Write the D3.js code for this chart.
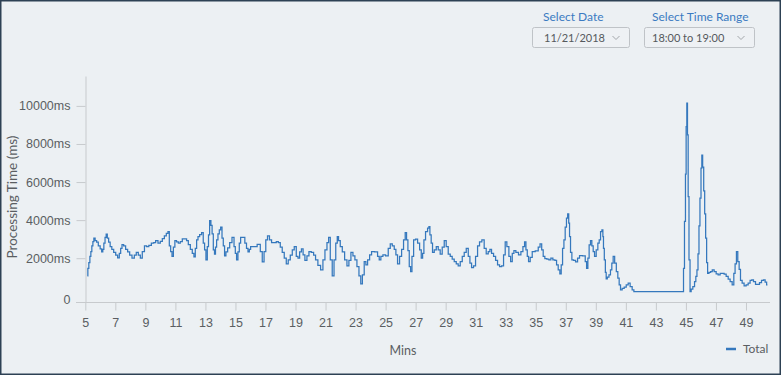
<!DOCTYPE html>
<html>
<head>
<meta charset="utf-8">
<script src="https://cdn.jsdelivr.net/npm/d3@7"></script>
<style>
  html, body { margin: 0; padding: 0; background: #ecf0f3; }
  svg { display: block; font-family: Lato, "Open Sans", sans-serif; }
</style>
</head>
<body>
<svg width="781" height="375"></svg>
<script>
// processing time samples: [minute, ms]
const samples = [
  [5.14,1070],[5.20,1470],[5.27,1770],[5.34,2090],[5.40,2350],[5.47,2650],[5.54,2870],[5.60,3050],[5.71,2930],[5.80,2840],
  [5.93,2650],[6.05,2490],[6.13,2330],[6.20,2470],[6.27,2790],[6.36,3090],[6.42,3260],[6.51,3050],[6.60,2840],[6.71,2610],
  [6.82,2470],[6.96,2310],[7.09,2160],[7.22,2020],[7.31,2260],[7.40,2510],[7.49,2720],[7.62,2650],[7.75,2470],[7.89,2330],
  [8.02,2160],[8.20,2000],[8.33,2160],[8.46,2300],[8.60,2160],[8.73,2000],[8.86,2350],[9.02,2650],[9.15,2610],[9.31,2680],
  [9.49,2790],[9.62,2820],[9.75,2930],[9.93,2790],[10.06,2890],[10.20,3030],[10.33,3170],[10.46,3300],[10.55,3400],[10.64,2650],
  [10.73,2350],[10.82,2090],[10.91,2580],[11.02,2930],[11.13,2860],[11.26,2790],[11.39,2870],[11.53,3010],[11.70,3010],[11.79,2930],
  [11.93,2720],[12.06,2470],[12.19,2260],[12.28,2070],[12.37,2510],[12.46,2960],[12.55,3140],[12.68,3240],[12.81,3350],[12.90,2790],
  [12.99,2440],[13.08,1910],[13.17,2610],[13.24,3220],[13.32,3980],[13.41,3720],[13.48,3280],[13.57,2440],[13.64,2210],[13.70,2580],
  [13.79,2960],[13.88,3280],[13.97,3490],[14.06,3630],[14.15,3050],[14.23,2650],[14.32,2120],[14.41,2330],[14.55,2540],[14.68,2820],
  [14.86,3100],[14.95,2610],[15.03,2260],[15.12,1910],[15.21,2330],[15.30,2790],[15.39,3090],[15.57,3090],[15.68,2790],[15.79,2520],
  [15.88,2330],[15.97,2470],[16.05,2610],
  [16.30,2610],[16.59,2730],[16.72,2350],[16.85,1810],[16.96,2350],[17.08,2960],[17.19,3170],[17.34,2960],[17.47,2820],[17.65,2820],
  [17.79,2870],[17.92,2820],[18.05,2580],[18.18,2300],[18.32,2000],[18.45,1700],[18.58,1910],[18.72,2160],[18.85,2440],[18.98,2610],
  [19.12,2090],[19.21,2000],[19.34,2330],[19.45,2490],[19.56,2170],[19.69,1880],[19.83,2120],[19.96,2350],[20.14,2300],[20.27,2160],
  [20.40,1910],[20.58,1630],[20.76,1390],[20.89,1910],[21.03,2440],[21.16,2820],[21.25,3090],[21.38,1910],[21.51,1070],[21.62,1910],
  [21.74,2790],[21.82,3140],[21.91,2930],[22.05,2610],[22.18,2330],[22.36,1910],[22.49,1600],[22.62,1880],[22.76,2300],[22.89,2120],
  [23.02,1910],[23.16,1560],[23.29,1070],[23.40,650],[23.51,1120],[23.64,1820],[23.73,1650],[23.87,1910],[24.00,2170],[24.13,2350],
  [24.40,2330],[24.53,2090],[24.62,1910],[24.75,2090],[24.89,2170],[25.11,2120],[25.24,2520],[25.38,2750],[25.51,2650],[25.64,2470],
  [25.73,2170],[25.86,1700],[26.00,2090],[26.13,2470],[26.26,2960],[26.35,3350],[26.44,2960],[26.53,2400],[26.62,1560],[26.71,1300],
  [26.80,2090],[26.93,2960],[27.06,3000],[27.20,2790],[27.33,2440],[27.42,2000],[27.51,2260],[27.59,2960],[27.73,3400],[27.86,3580],
  [27.91,3660],[27.99,3220],[28.08,2790],[28.17,2300],[28.31,2440],[28.44,2610],[28.57,2440],[28.70,2210],[28.84,2580],[28.97,2930],
  [29.10,2610],[29.24,2210],[29.37,2090],[29.50,1950],[29.64,1820],[29.77,1700],[29.90,1600],[30.04,1820],[30.17,2090],[30.30,2300],
  [30.44,2510],[30.57,2090],[30.66,1740],[30.79,1510],[30.92,1600],[31.06,2090],[31.19,2650],[31.32,2860],[31.50,2960],[31.63,2520],
  [31.77,2230],[31.90,2350],[31.99,2470],[32.12,2260],[32.26,2090],[32.39,1880],[32.52,1650],[32.66,1560],[32.79,1600],[32.92,2170],
  [33.01,2860],[33.14,2610],[33.28,2090],[33.37,1820],[33.50,2260],[33.59,2400],[33.76,2310],[33.94,2170],[34.08,2350],[34.21,2610],
  [34.30,2860],[34.39,2440],[34.48,2090],[34.56,1820],[34.70,2050],[34.83,2350],[35.10,2380],[35.23,2580],[35.34,2750],[35.45,2440],
  [35.54,2090],[35.67,1980],[35.81,1950],[35.94,1910],[36.07,2000],[36.21,1910],[36.34,1880],[36.43,1650],[36.56,1390],[36.65,1180],
  [36.74,1650],[36.83,2520],[36.92,2960],[37.00,3630],[37.09,4100],[37.16,4330],[37.23,3840],[37.27,3140],[37.36,2300],[37.45,1910],
  [37.58,1880],[37.72,1810],[37.85,2000],[37.98,2140],[38.25,2120],[38.34,1820],[38.43,1470],[38.51,2000],[38.60,2700],[38.69,2930],
  [38.78,2650],[38.87,2350],[38.96,2090],[39.09,2440],[39.18,2790],
  [39.27,2960],[39.36,3400],[39.45,3490],[39.49,3140],[39.53,2520],[39.60,1910],[39.67,1250],[39.71,910],[39.82,1000],[39.93,1120],
  [40.02,1390],[40.11,1740],[40.20,2090],[40.31,1740],[40.42,1300],[40.51,950],[40.60,600],[40.69,340],[40.82,420],[40.96,480],
  [41.09,600],[41.22,690],[41.35,510],[41.49,340],[41.58,250],[44.82,250],[44.86,1470],[44.95,3930],[44.99,6410],[45.04,8910],
  [45.08,10140],[45.13,8480],[45.17,5240],[45.24,1910],[45.31,250],[45.39,370],[45.53,510],[45.62,770],[45.70,1040],[45.77,1390],
  [45.84,2230],[45.90,3700],[45.97,5150],[46.04,6730],[46.08,7410],[46.15,6780],[46.22,5540],[46.28,4330],[46.35,3050],[46.41,1770],
  [46.48,1210],[46.59,1260],[46.70,1300],[46.81,1390],[46.95,1300],[47.08,1180],[47.21,1120],[47.35,1210],[47.48,1210],[47.61,1160],
  [47.75,1040],[47.88,900],[48.01,770],[48.15,600],[48.23,1210],[48.32,1700],[48.41,2350],[48.50,1820],[48.59,1420],[48.68,830],
  [48.81,690],[48.94,550],[49.08,600],[49.21,690],[49.34,830],[49.43,860],[49.57,770],[49.70,630],[49.83,630],[49.97,720],
  [50.10,830],[50.23,860],[50.32,740],[50.43,600]
];

const xTicks = [5,7,9,11,13,15,17,19,21,23,25,27,29,31,33,35,37,39,41,43,45,47,49];
const yTicks = [0,2000,4000,6000,8000,10000];
const dateOptions = ["11/21/2018"];
const rangeOptions = ["18:00 to 19:00"];

const svg = d3.select("svg");
const width = +svg.attr("width");
const height = +svg.attr("height");

// фон и рамка
svg.append("rect")
  .attr("x", 0.75).attr("y", 0.75)
  .attr("width", width - 1.5).attr("height", height - 1.5)
  .attr("fill", "#ecf0f3")
  .attr("stroke", "#2d4154")
  .attr("stroke-width", 1.5);

const x = d3.scaleLinear().domain([5, 50.6]).range([85.3, 770]);
const y = d3.scaleLinear().domain([-300, 11570]).range([302, 76]);

const axisColor = "#c7cacd";
const textColor = "#5a5e62";

// y axis
const gy = svg.append("g")
  .attr("transform", "translate(85.5,0)")
  .call(d3.axisLeft(y).tickValues(yTicks).tickSize(9).tickSizeOuter(0).tickPadding(6)
    .tickFormat(d => d === 0 ? "0" : d + "ms"));
gy.select(".domain").attr("stroke", axisColor);
gy.selectAll(".tick line").attr("stroke", axisColor).attr("opacity", d => d === 0 ? 0 : 1);
gy.selectAll(".tick text").attr("fill", textColor).attr("font-size", 12.5)
  .attr("dy", d => d === 0 ? "0.55em" : "0.32em");

// x axis
const gx = svg.append("g")
  .attr("transform", "translate(0,302.5)")
  .call(d3.axisBottom(x).tickValues(xTicks).tickSize(8).tickSizeOuter(0).tickPadding(8));
gx.select(".domain").remove();
gx.append("line")
  .attr("x1", 76).attr("x2", 770)
  .attr("stroke", axisColor);
gx.selectAll(".tick line").attr("stroke", axisColor);
gx.selectAll(".tick text").attr("fill", textColor).attr("font-size", 12.5);

// axis titles
svg.append("text")
  .attr("transform", "translate(17,197) rotate(-90)")
  .attr("text-anchor", "middle")
  .attr("fill", textColor)
  .attr("font-size", 13.5)
  .text("Processing Time (ms)");

svg.append("text")
  .attr("x", 403).attr("y", 355)
  .attr("text-anchor", "middle")
  .attr("fill", textColor)
  .attr("font-size", 12.5)
  .text("Mins");

// линия
const line = d3.line()
  .x(d => x(d[0]))
  .y(d => y(d[1]))
  .curve(d3.curveStep);

svg.append("path")
  .attr("d", line(samples))
  .attr("fill", "none")
  .attr("stroke", "#3578bd")
  .attr("stroke-width", 1.25);

// legend
svg.append("line")
  .attr("x1", 726).attr("x2", 736)
  .attr("y1", 349).attr("y2", 349)
  .attr("stroke", "#3578bd")
  .attr("stroke-width", 2.5);
svg.append("text")
  .attr("x", 743).attr("y", 353)
  .attr("fill", textColor)
  .attr("font-size", 12)
  .text("Total");

// селекты
const selects = [
  {label: "Select Date", value: dateOptions[0], x: 532, w: 97, lx: 543, tx: 544},
  {label: "Select Time Range", value: rangeOptions[0], x: 644, w: 110, lx: 652, tx: 652}
];

const sel = svg.selectAll("g.sel").data(selects).join("g").attr("class", "sel");
sel.append("text")
  .attr("x", d => d.lx).attr("y", 21)
  .attr("fill", "#3b7bc2")
  .attr("font-size", 12)
  .text(d => d.label);
sel.append("rect")
  .attr("x", d => d.x + 0.5).attr("y", 27.5)
  .attr("width", d => d.w).attr("height", 20)
  .attr("rx", 2)
  .attr("fill", "#eef1f4")
  .attr("stroke", "#bfc3c7");
sel.append("text")
  .attr("x", d => d.tx).attr("y", 41.5)
  .attr("fill", "#55595d")
  .attr("font-size", 11)
  .text(d => d.value);
sel.append("path")
  .attr("d", d => {
    const cx = d.x + d.w - 13;
    return `M${cx - 3.5},36 L${cx},39.5 L${cx + 3.5},36`;
  })
  .attr("fill", "none")
  .attr("stroke", "#a3a7ab")
  .attr("stroke-width", 1);
</script>
</body>
</html>
